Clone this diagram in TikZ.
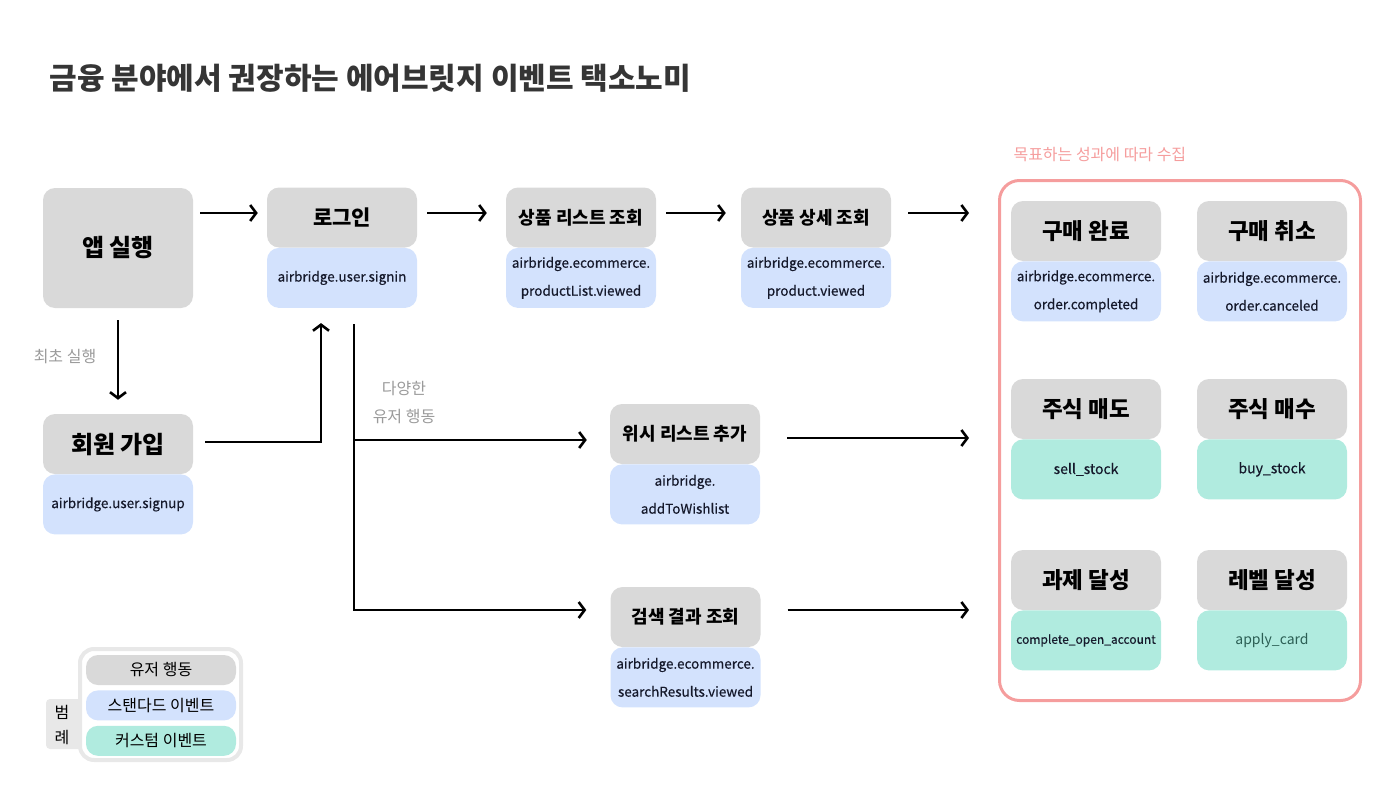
\documentclass[tikz,border=0pt]{standalone}
\usepackage{fontspec}
\setmainfont{Noto Sans CJK KR}
\newfontfamily\idfont[FakeBold=0.4]{Noto Sans CJK KR}
\usetikzlibrary{positioning,arrows.meta}
\definecolor{usrgray}{HTML}{D9D9D9}
\definecolor{stdblue}{HTML}{D3E2FD}
\definecolor{cstgreen}{HTML}{B0EBDF}
\definecolor{goalpink}{HTML}{F59D9D}
\definecolor{notegray}{HTML}{9A9A9A}
\definecolor{legendgray}{HTML}{E8E8E8}
\definecolor{titlegray}{HTML}{353535}
\definecolor{idnavy}{HTML}{15192B}
\definecolor{cardteal}{HTML}{2B5E54}
\newcommand{\fs}[2]{\fontsize{#1}{#2}\selectfont}

\begin{document}
\begin{tikzpicture}%
[x=1pt, y=-1pt,
box/.style={rounded corners=12pt, minimum width=150pt, minimum height=60pt, inner sep=0pt, align=center},
usr/.style={box, fill=usrgray, font=\bfseries\fs{21}{25}},
std/.style={box, fill=stdblue, text=idnavy, font=\idfont\fs{13.5}{28}},
cst/.style={box, fill=cstgreen, text=idnavy, font=\idfont\fs{14}{28}},
note/.style={text=notegray, font=\fs{16}{28}, align=center},
arr/.style={-{Straight Barb[length=6pt,width=16pt]}, line width=2.6pt},
pill/.style={rounded corners=12pt, minimum width=150pt, minimum height=30pt, inner sep=0pt, font=\fs{16}{20}}]

\useasboundingbox (0,0) rectangle (1400,800);

\node[anchor=west, text=titlegray, font=\bfseries\fs{30}{36}] (title) at (46,78) {금융 분야에서 권장하는 에어브릿지 이벤트 택소노미};

% main flow
\node[usr, minimum height=120pt, font=\bfseries\fs{24}{28}] (app) at (118,248) {앱 실행};
\node[usr] (login) at (342,217.5) {로그인};
\node[std, below=0pt of login] (loginid) {airbridge.user.signin};
\node[usr, font=\bfseries\fs{18}{22}] (list) at (581,217.5) {상품 리스트 조회};
\node[std, below=0pt of list] (listid) {airbridge.ecommerce.\\productList.viewed};
\node[usr, font=\bfseries\fs{18}{22}] (detail) at (816,217.5) {상품 상세 조회};
\node[std, below=0pt of detail] (detailid) {airbridge.ecommerce.\\product.viewed};

\node[usr, font=\bfseries\fs{24}{28}] (signup) at (118,444) {회원 가입};
\node[std, below=0pt of signup] (signupid) {airbridge.user.signup};
\node[note] (firstnote) at (65,357) {최초 실행};

\node[usr, font=\bfseries\fs{18}{22}] (wish) at (685,434) {위시 리스트 추가};
\node[std, below=0pt of wish] (wishid) {airbridge.\\addToWishlist};
\node[usr, font=\bfseries\fs{18}{22}] (search) at (685.5,617) {검색 결과 조회};
\node[std, below=0pt of search] (searchid) {airbridge.ecommerce.\\searchResults.viewed};
\node[note] (variednote) at (404,403) {다양한\\유저 행동};

\draw[arr, shorten <=7pt, shorten >=9pt] ([yshift=35pt]app.east) -- ([yshift=4.5pt]login.west);
\draw[arr, shorten <=10pt, shorten >=19pt] ([yshift=4.5pt]login.east) -- ([yshift=4.5pt]list.west);
\draw[arr, shorten <=10pt, shorten >=15pt] ([yshift=4.5pt]list.east) -- ([yshift=4.5pt]detail.west);
\draw[arr, shorten <=12pt, shorten >=14pt] (app.south) -- (signup.north);
\draw[arr, shorten <=12pt, shorten >=15pt] ([yshift=2pt]signup.east) -| ([xshift=-21pt]loginid.south);

\coordinate (fork) at ([xshift=12pt, yshift=-16pt]loginid.south);
\draw[arr, shorten >=23pt] (fork) |- ([yshift=-6pt]wish.west);
\draw[arr, shorten >=24pt] (fork) |- ([yshift=7pt]search.west);

% goals
\node[draw=goalpink, line width=3pt, rounded corners=20pt, minimum width=361pt, minimum height=520pt] (goal) at (1180,440.5) {};
\node[anchor=west, text=goalpink, font=\fs{16}{20}] (goalnote) at (1010,155) {목표하는 성과에 따라 수집};

\node[usr, font=\bfseries\fs{22.5}{26}] (buy) at (1086,231) {구매 완료};
\node[std, below=0pt of buy] (buyid) {airbridge.ecommerce.\\order.completed};
\node[usr, font=\bfseries\fs{22.5}{26}] (cancel) at (1272,231) {구매 취소};
\node[std, below=0pt of cancel] (cancelid) {airbridge.ecommerce.\\order.canceled};
\node[usr, font=\bfseries\fs{22.5}{26}] (sell) at (1086,409) {주식 매도};
\node[cst, below=0pt of sell] (sellid) {sell\_stock};
\node[usr, font=\bfseries\fs{22.5}{26}] (purchase) at (1272,409) {주식 매수};
\node[cst, below=0pt of purchase] (purchaseid) {buy\_stock};
\node[usr, font=\bfseries\fs{22.5}{26}] (task) at (1086,580) {과제 달성};
\node[cst, below=0pt of task, font=\idfont\fs{12}{20}] (taskid) {complete\_open\_account};
\node[usr, font=\bfseries\fs{22.5}{26}] (level) at (1272,580) {레벨 달성};
\node[cst, below=0pt of level, text=cardteal, font=\fs{14}{20}] (levelid) {apply\_card};

\draw[arr, shorten <=17pt, shorten >=29pt] ([yshift=4.5pt]detail.east) -- ([yshift=4.5pt]detail.east -| goal.west);
\draw[arr, shorten <=27pt, shorten >=29pt] ([yshift=-4pt]wish.east) -- ([yshift=-4pt]wish.east -| goal.west);
\draw[arr, shorten <=27pt, shorten >=29pt] ([yshift=7pt]search.east) -- ([yshift=7pt]search.east -| goal.west);

% legend
\node[fill=legendgray, rounded corners=4pt, minimum width=36pt, minimum height=50pt] (legendtab) at (64,724) {};
\node[fill=white, draw=legendgray, line width=4pt, rounded corners=14pt, minimum width=161pt, minimum height=111pt] (legend) at (160.5,704.5) {};
\node[font=\fs{16}{25}, align=center] (legendname) at (62,724.5) {범\\례};
\node[pill, fill=usrgray] (legendusr) at (161,670) {유저 행동};
\node[pill, fill=stdblue, below=5pt of legendusr] (legendstd) {스탠다드 이벤트};
\node[pill, fill=cstgreen, below=5pt of legendstd] (legendcst) {커스텀 이벤트};
\end{tikzpicture}
\end{document}
